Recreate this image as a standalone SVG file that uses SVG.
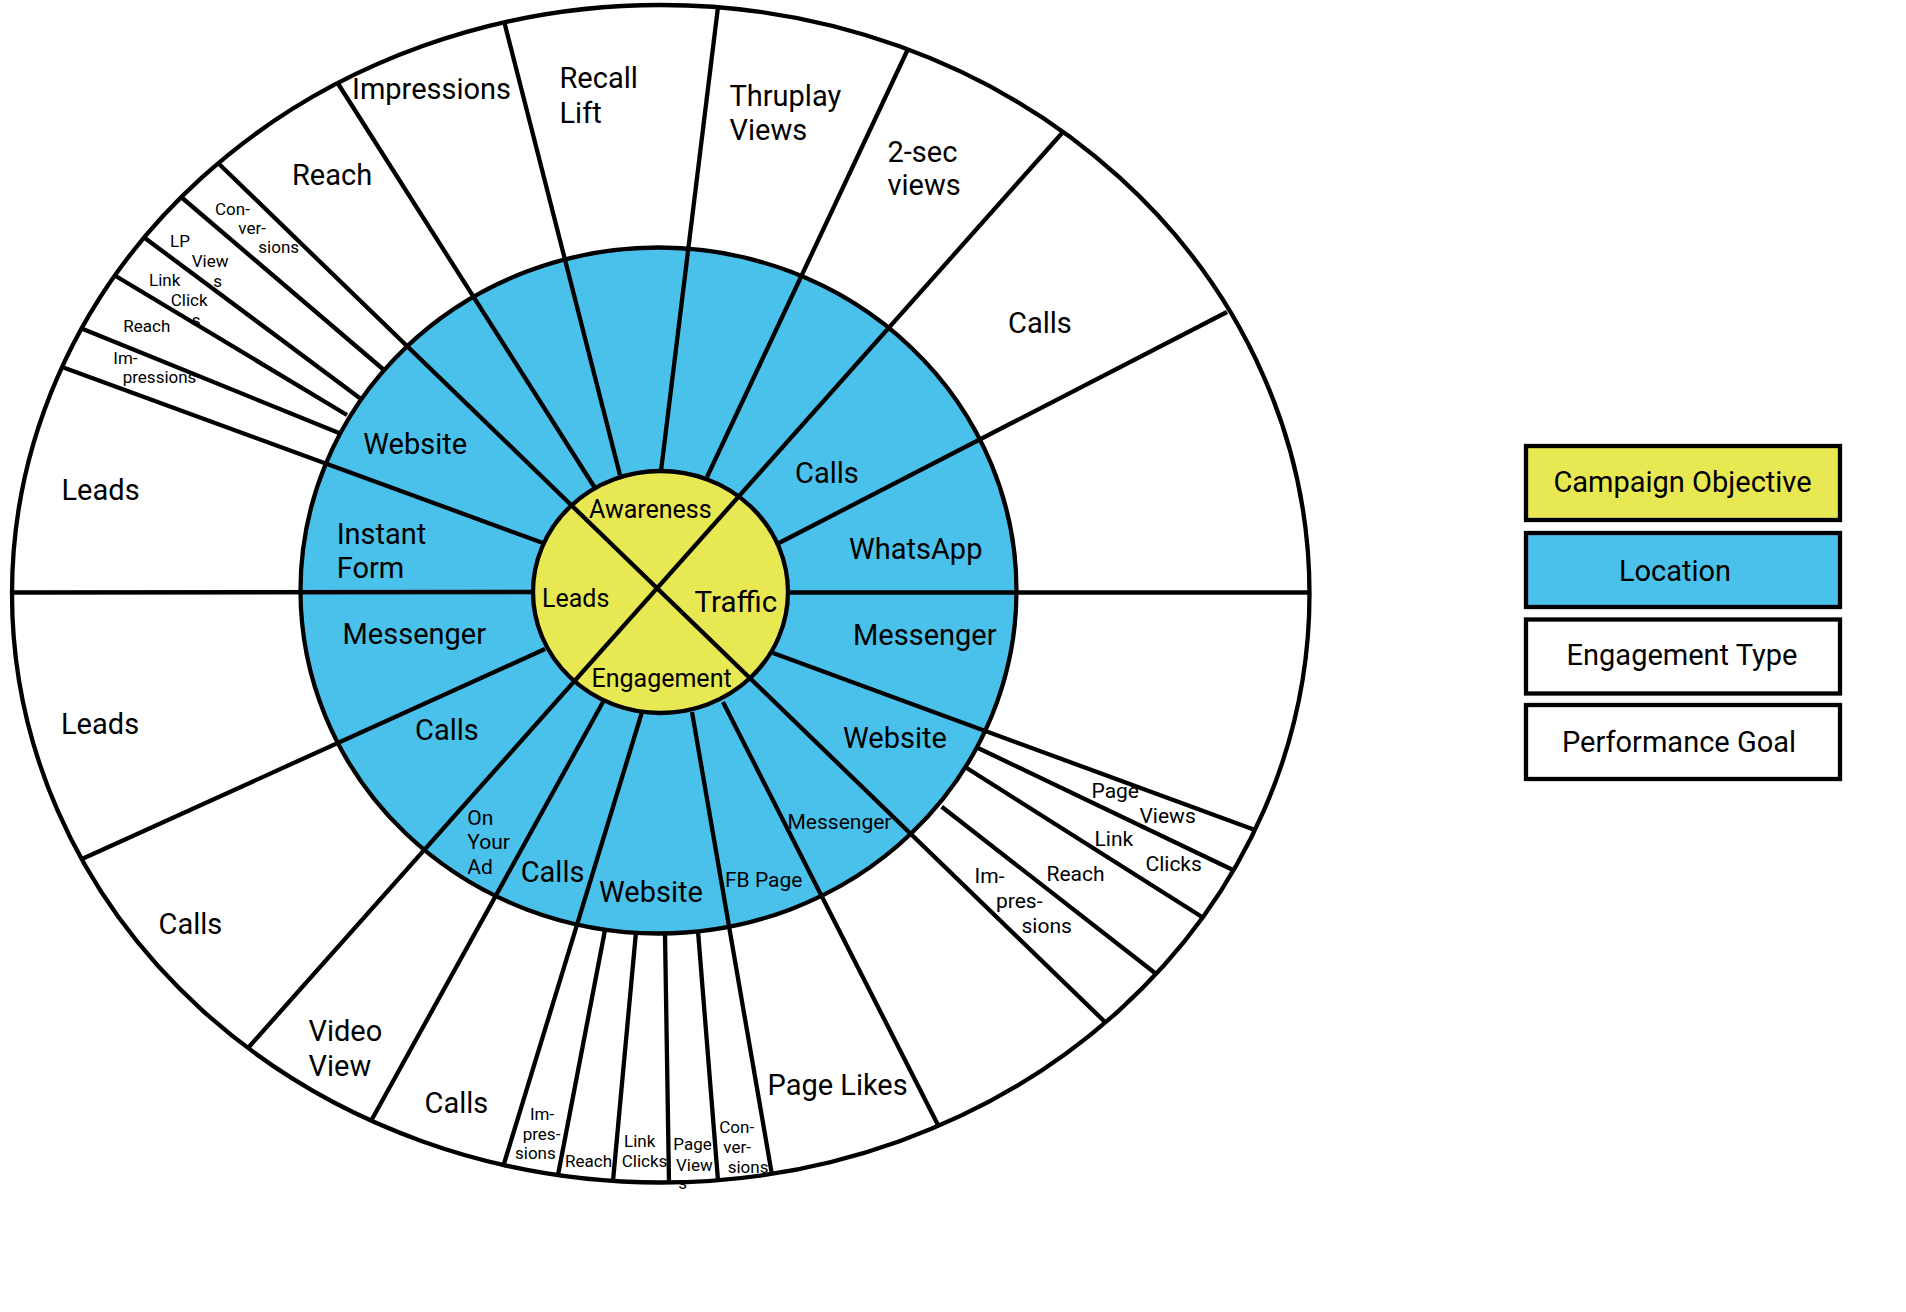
<svg xmlns="http://www.w3.org/2000/svg" width="1906" height="1312" viewBox="0 0 1906 1312">
<style>
.ln{stroke:#000;stroke-width:4.3;fill:none}
.ring{stroke:#000;stroke-width:4.3}
.t{font-family:Roboto,"Liberation Sans",sans-serif;fill:#000}
.xl{font-size:29px}
.m{font-size:25px}
.tr{font-size:29.5px}
.s{font-size:21px}
.xs{font-size:17px}
.c{text-anchor:middle}
.box{stroke:#000;stroke-width:4.3}
</style>
<rect width="1906" height="1312" fill="#fff"/>
<g id="rings">
<ellipse class="ring" cx="660.75" cy="593.75" rx="648.75" ry="588.75" fill="#fff"/>
<ellipse class="ring" cx="658.5" cy="590.5" rx="358" ry="343" fill="#4AC1EA"/>
<ellipse class="ring" cx="660.5" cy="592" rx="127.5" ry="121" fill="#E8E852"/>
</g>
<g id="obj-awareness"><text class="t m" x="589" y="518.3">Awareness</text></g>
<g id="obj-leads"><text class="t m" x="542" y="606.7">Leads</text></g>
<g id="obj-traffic"><text class="t tr" x="694.5" y="611.7">Traffic</text></g>
<g id="obj-engagement"><text class="t m" x="591.5" y="686.7">Engagement</text></g>
<g id="loc-leads-website"><text class="t xl" x="363.3" y="454">Website</text></g>
<g id="loc-leads-instant"><text class="t xl" x="336.7" y="544">Instant</text><text class="t xl" x="336.7" y="578.3">Form</text></g>
<g id="loc-leads-messenger"><text class="t xl" x="342.5" y="644">Messenger</text></g>
<g id="loc-leads-calls"><text class="t xl" x="415" y="740">Calls</text></g>
<g id="loc-traffic-calls"><text class="t xl" x="795" y="483">Calls</text></g>
<g id="loc-traffic-whatsapp"><text class="t xl" x="849" y="559.3">WhatsApp</text></g>
<g id="loc-traffic-messenger"><text class="t xl" x="853" y="645">Messenger</text></g>
<g id="loc-traffic-website"><text class="t xl" x="843" y="748.3">Website</text></g>
<g id="loc-eng-onyourad"><text class="t s" x="467.3" y="825">On</text><text class="t s" x="467.3" y="849.3">Your</text><text class="t s" x="467.3" y="874">Ad</text></g>
<g id="loc-eng-calls"><text class="t xl" x="520.7" y="882.3">Calls</text></g>
<g id="loc-eng-website"><text class="t xl" x="599" y="902.3">Website</text></g>
<g id="loc-eng-fbpage"><text class="t s" x="725" y="886.5">FB Page</text></g>
<g id="loc-eng-messenger"><text class="t s" x="787.5" y="828.7">Messenger</text></g>
<g id="goal-lw-conversions"><text class="t xs" x="215" y="214.7">Con-</text><text class="t xs" x="238.3" y="234.3">ver-</text><text class="t xs" x="258.3" y="253.3">sions</text></g>
<g id="goal-lw-lpviews"><text class="t xs" x="170" y="246.7">LP</text><text class="t xs" x="191.7" y="267.3">View</text><text class="t xs" x="213.3" y="286.7">s</text></g>
<g id="goal-lw-linkclicks"><text class="t xs" x="149" y="286">Link</text><text class="t xs" x="170.7" y="306">Click</text><text class="t xs" x="191.7" y="326">s</text></g>
<g id="goal-lw-reach"><text class="t xs" x="123.3" y="331.7">Reach</text></g>
<g id="goal-lw-impressions"><text class="t xs" x="113.3" y="364">Im-</text><text class="t xs" x="122.7" y="382.7">pressions</text></g>
<g id="goal-aw-reach"><text class="t xl" x="292" y="185">Reach</text></g>
<g id="goal-aw-impressions"><text class="t xl" x="352" y="99">Impressions</text></g>
<g id="goal-aw-recall"><text class="t xl" x="559.5" y="88.3">Recall</text><text class="t xl" x="559.5" y="122.7">Lift</text></g>
<g id="goal-aw-thruplay"><text class="t xl" x="729.5" y="106">Thruplay</text><text class="t xl" x="729.5" y="140">Views</text></g>
<g id="goal-aw-2sec"><text class="t xl" x="887.5" y="161.7">2-sec</text><text class="t xl" x="887.5" y="195">views</text></g>
<g id="goal-tr-calls"><text class="t xl" x="1008" y="333.3">Calls</text></g>
<g id="goal-tw-pageviews"><text class="t s" x="1091.5" y="798.3">Page</text><text class="t s" x="1139.5" y="823">Views</text></g>
<g id="goal-tw-linkclicks"><text class="t s" x="1094.5" y="845.5">Link</text><text class="t s" x="1145.5" y="870.5">Clicks</text></g>
<g id="goal-tw-reach"><text class="t s" x="1046.5" y="880.5">Reach</text></g>
<g id="goal-tw-impressions"><text class="t s" x="974.5" y="883.3">Im-</text><text class="t s" x="996" y="908.3">pres-</text><text class="t s" x="1021.5" y="933.3">sions</text></g>
<g id="goal-li-leads"><text class="t xl" x="61.5" y="500">Leads</text></g>
<g id="goal-lm-leads"><text class="t xl" x="61" y="734.3">Leads</text></g>
<g id="goal-lc-calls"><text class="t xl" x="158.5" y="933.6">Calls</text></g>
<g id="goal-eo-videoview"><text class="t xl" x="308.5" y="1040.7">Video</text><text class="t xl" x="308.5" y="1076.4">View</text></g>
<g id="goal-ec-calls"><text class="t xl" x="424.5" y="1112.9">Calls</text></g>
<g id="goal-ew-impressions"><text class="t xs" x="530" y="1120">Im-</text><text class="t xs" x="522.7" y="1140">pres-</text><text class="t xs" x="515" y="1159.3">sions</text></g>
<g id="goal-ew-reach"><text class="t xs" x="565" y="1166.7">Reach</text></g>
<g id="goal-ew-linkclicks"><text class="t xs" x="624" y="1146.7">Link</text><text class="t xs" x="621.7" y="1166.7">Clicks</text></g>
<g id="goal-ew-pageviews"><text class="t xs" x="673.3" y="1150">Page</text><text class="t xs" x="676" y="1170.7">View</text><text class="t xs" x="678.3" y="1189.3">s</text></g>
<g id="goal-ew-conversions"><text class="t xs" x="719.3" y="1132.7">Con-</text><text class="t xs" x="723.3" y="1152.7">ver-</text><text class="t xs" x="727.7" y="1172.7">sions</text></g>
<g id="goal-ef-pagelikes"><text class="t xl" x="767.5" y="1095">Page Likes</text></g>
<g id="connectors">
<line class="ln" x1="218" y1="163" x2="1105" y2="1022"/>
<line class="ln" x1="1063" y1="132" x2="248" y2="1048"/>
<line class="ln" x1="337" y1="82" x2="595" y2="488"/>
<line class="ln" x1="504" y1="21" x2="620" y2="475"/>
<line class="ln" x1="718" y1="7" x2="661" y2="471"/>
<line class="ln" x1="908" y1="49" x2="707" y2="477"/>
<line class="ln" x1="1227" y1="312" x2="779" y2="543"/>
<line class="ln" x1="11" y1="592.5" x2="533" y2="592"/>
<line class="ln" x1="787" y1="592.5" x2="1310" y2="592.5"/>
<line class="ln" x1="773" y1="653" x2="1255" y2="830"/>
<line class="ln" x1="545" y1="649" x2="82" y2="859"/>
<line class="ln" x1="62" y1="367" x2="543" y2="543"/>
<line class="ln" x1="603" y1="702" x2="371" y2="1121"/>
<line class="ln" x1="642" y1="712" x2="503" y2="1167"/>
<line class="ln" x1="692" y1="712" x2="772" y2="1175"/>
<line class="ln" x1="723" y1="702" x2="938" y2="1125"/>
<line class="ln" x1="180.5" y1="196.5" x2="384" y2="370"/>
<line class="ln" x1="143.5" y1="237" x2="361" y2="399"/>
<line class="ln" x1="114" y1="275" x2="347" y2="415"/>
<line class="ln" x1="80.4" y1="328" x2="339" y2="433"/>
<line class="ln" x1="978" y1="748" x2="1233" y2="870"/>
<line class="ln" x1="966.7" y1="768" x2="1201.7" y2="916.7"/>
<line class="ln" x1="941.7" y1="806.7" x2="1155" y2="973"/>
<line class="ln" x1="605" y1="930" x2="558" y2="1175"/>
<line class="ln" x1="636" y1="932" x2="613" y2="1181"/>
<line class="ln" x1="665" y1="933" x2="669" y2="1182.5"/>
<line class="ln" x1="698" y1="931" x2="718" y2="1180.5"/>
</g>
<g id="legend-objective"><rect class="box" x="1526" y="446" width="314" height="74" fill="#E8E852"/><text class="t xl c" x="1682.5" y="491.7">Campaign Objective</text></g>
<g id="legend-location"><rect class="box" x="1526" y="533" width="314" height="74" fill="#4AC1EA"/><text class="t xl c" x="1675" y="581">Location</text></g>
<g id="legend-engagement"><rect class="box" x="1526" y="619.5" width="314" height="74" fill="#fff"/><text class="t xl c" x="1682" y="665">Engagement Type</text></g>
<g id="legend-goal"><rect class="box" x="1526" y="705" width="314" height="74" fill="#fff"/><text class="t xl c" x="1679" y="751.7">Performance Goal</text></g>
</svg>
